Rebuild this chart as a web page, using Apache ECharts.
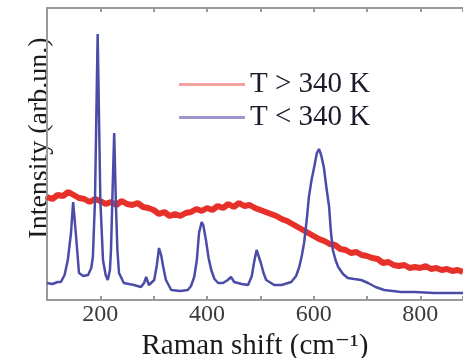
<!DOCTYPE html>
<html><head><meta charset="utf-8">
<script src="https://cdn.jsdelivr.net/npm/echarts@6/dist/echarts.min.js"></script>
<style>html,body{margin:0;padding:0;background:#fff;}#c{width:463px;height:358px;}</style>
</head><body><div id="c"></div>
<script>
const seriesNames = ['T > 340 K', 'T < 340 K'];
const xTickLabels = [200, 400, 600, 800];
const xName = 'Raman shift (cm\u207B\u00B9)';
const yName = 'Intensity (arb.un.)';

// T > 340 K (red), [Raman shift, intensity]
const hotData = [
 [100,103],[110,101],[120,105],[130,104],[140,108],[150,105],[160,102],[170,101],[180,98],[190,101],
 [200,99],[210,96],[220,98],[230,95],[240,99],[250,96],[260,95],[270,97],[280,93],[290,92],
 [300,90],[310,86],[320,88],[330,84],[340,86],[350,84],[360,87],[370,88],[380,91],[390,89],
 [400,92],[410,90],[420,94],[430,92],[440,96],[450,93],[460,97],[470,94],[480,95],[490,92],
 [500,90],[510,88],[520,86],[530,84],[540,81],[550,79],[560,76],[570,73],[580,70],[590,67],
 [600,64],[610,61],[620,59],[630,56],[640,55],[650,51],[660,50],[670,47],[680,48],[690,45],
 [700,44],[710,42],[720,41],[730,37],[740,38],[750,35],[760,34],[770,35],[780,32],[790,33],
 [800,32],[810,34],[820,31],[830,32],[840,30],[850,31],[860,29],[870,30],[880,28]
];

// T < 340 K (blue)
const coldData = [
 [100,17],[110,16],[120,18],[126,18],[133,25],[139,40],[145,67],[149,98],[154,67],[160,27],
 [168,24],[177,25],[183,32],[186,43],[190,100],[192,167],[195,266],[198,167],[200,100],[205,40],
 [210,25],[214,20],[218,30],[220,50],[223,110],[226,167],[229,100],[232,50],[235,27],[244,17],
 [263,15],[276,13],[282,17],[286,23],[291,15],[301,20],[306,35],[310,52],[314,45],[318,33],
 [323,20],[333,10],[350,9],[364,10],[370,14],[376,23],[381,40],[385,67],[390,78],[393,75],
 [398,60],[403,42],[408,30],[414,21],[421,17],[430,17],[439,20],[445,23],[451,18],[465,16],
 [477,15],[484,24],[488,37],[493,50],[496,50],[501,37],[506,27],[511,20],[526,15],[540,15],
 [558,18],[567,24],[573,33],[578,45],[582,57],[587,80],[591,103],[596,120],[601,133],[606,147],
 [610,151],[614,145],[619,133],[624,112],[629,93],[632,70],[636,50],[641,40],[646,33],[655,26],
 [664,22],[676,21],[689,20],[702,17],[716,13],[732,10],[748,9],[764,8],[790,8],[826,7],
 [850,7],[880,7]
];

const FONT = '"Liberation Serif", "DejaVu Serif", serif';
const axisGray = '#9a9a9a';
const chart = echarts.init(document.getElementById('c'), null, {renderer: 'canvas'});
const xCommon = {
  type: 'value', min: 100, max: 880, interval: 100,
  axisLine: {show: true, lineStyle: {color: axisGray, width: 2}},
  axisTick: {show: true, inside: true, length: 4, lineStyle: {color: axisGray, width: 2}},
  splitLine: {show: false}
};
chart.setOption({
  animation: false,
  grid: {left: 47, right: 0, top: 8, bottom: 58, containLabel: false, outerBoundsMode: 'none'},
  legend: {
    orient: 'vertical', left: 174, top: 65, itemGap: 4,
    itemWidth: 66, itemHeight: 3, icon: 'rect',
    textStyle: {fontFamily: FONT, fontSize: 29, color: '#1a1a2a'},
    data: [
      {name: seriesNames[0], itemStyle: {color: '#f4a2a0'}},
      {name: seriesNames[1], itemStyle: {color: '#9d96cc'}}
    ]
  },
  xAxis: [
    Object.assign({}, xCommon, {
      position: 'bottom',
      name: xName, nameLocation: 'middle', nameGap: 28,
      nameTextStyle: {fontFamily: FONT, fontSize: 29, color: '#1a1a1a'},
      axisLabel: {
        fontFamily: FONT, fontSize: 24, color: '#3a3a3a', margin: 3,
        formatter: v => xTickLabels.indexOf(v) >= 0 ? String(v) : ''
      }
    }),
    Object.assign({}, xCommon, {position: 'top', axisLabel: {show: false}})
  ],
  yAxis: {
    type: 'value', min: 0, max: 292,
    axisLine: {show: true, lineStyle: {color: axisGray, width: 2}},
    axisTick: {show: false}, axisLabel: {show: false}, splitLine: {show: false}
  },
  graphic: [{
    type: 'text', x: 40, y: 138, rotation: Math.PI / 2,
    style: {text: yName, fontFamily: FONT, fontSize: 28, fill: '#1a1a1a',
            textAlign: 'center', textVerticalAlign: 'middle'}
  }],
  series: [
    {name: seriesNames[0], type: 'line', data: hotData, showSymbol: false,
     lineStyle: {color: '#e8302a', width: 6}, itemStyle: {color: '#e8302a'}, z: 2},
    {name: seriesNames[1], type: 'line', data: coldData, showSymbol: false,
     lineStyle: {color: '#4b4ba8', width: 2.5}, itemStyle: {color: '#4b4ba8'}, z: 3}
  ]
});
</script></body></html>
